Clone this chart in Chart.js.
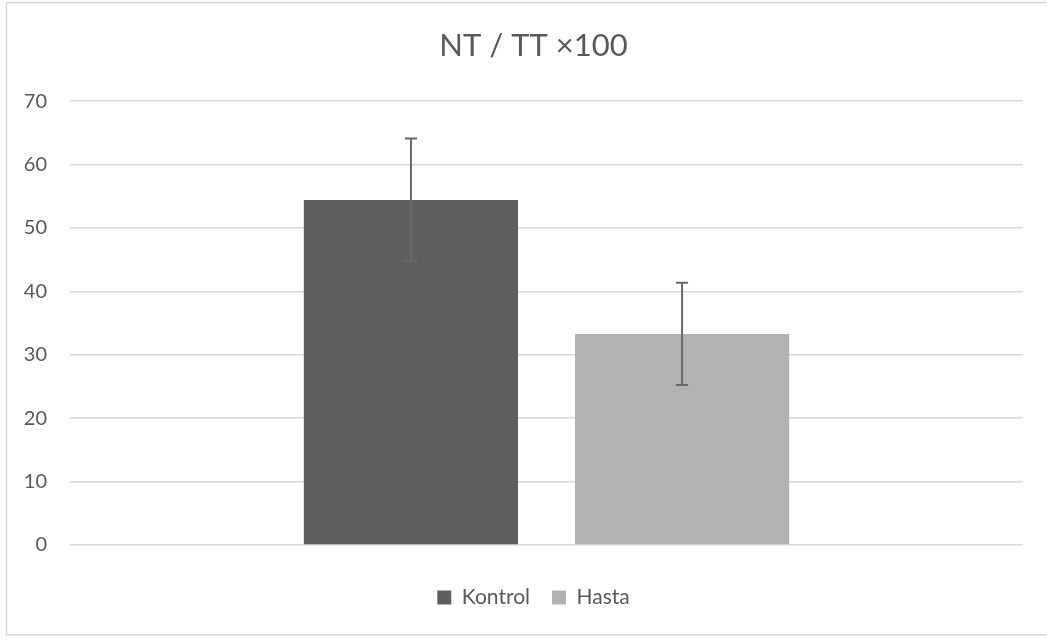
<!DOCTYPE html>
<html>
<head>
<meta charset="utf-8">
<script src="https://cdn.jsdelivr.net/npm/chart.js@4.4.1/dist/chart.umd.min.js"></script>
<style>
  html, body { margin: 0; padding: 0; background: #fff; }
  #wrap { width: 1047px; height: 640px; position: relative; }
</style>
</head>
<body>
<div id="wrap"><canvas id="chart"></canvas></div>
<script>
// Chart data
const categories = [''];
const seriesNames = ['Kontrol', 'Hasta'];
const kontrolValues = [54.4];
const hastaValues = [33.3];
const kontrolErrors = [9.7];
const hastaErrors = [8.05];
const yTicks = [0, 10, 20, 30, 40, 50, 60, 70];

const textColor = '#595959';
const fontFamily = 'Lato, "Noto Sans", sans-serif';

// error bars drawn on top of the bars
const errorBars = {
  id: 'errorBars',
  afterDatasetsDraw(chart) {
    const ctx = chart.ctx;
    const yScale = chart.scales.y;
    ctx.save();
    ctx.strokeStyle = '#686868';
    ctx.lineWidth = 2;
    chart.data.datasets.forEach((ds, i) => {
      const meta = chart.getDatasetMeta(i);
      meta.data.forEach((bar, j) => {
        const v = ds.data[j];
        const e = ds.errors[j];
        const top = yScale.getPixelForValue(v + e);
        const bottom = yScale.getPixelForValue(v - e);
        ctx.beginPath();
        ctx.moveTo(bar.x, top);
        ctx.lineTo(bar.x, bottom);
        ctx.moveTo(bar.x - 6, top);
        ctx.lineTo(bar.x + 6, top);
        ctx.moveTo(bar.x - 6, bottom);
        ctx.lineTo(bar.x + 6, bottom);
        ctx.stroke();
      });
    });
    ctx.restore();
  }
};

// light frame round the whole chart
const frame = {
  id: 'frame',
  beforeDraw(chart) {
    const ctx = chart.ctx;
    ctx.save();
    ctx.fillStyle = '#fff';
    ctx.fillRect(0, 0, chart.width, chart.height);
    ctx.strokeStyle = '#d9d9d9';
    ctx.lineWidth = 1.5;
    ctx.strokeRect(6.5, 2.5, chart.width + 10, 632.5);
    ctx.restore();
  }
};

new Chart(document.getElementById('chart'), {
  type: 'bar',
  data: {
    labels: categories,
    datasets: [
      {
        label: seriesNames[0],
        data: kontrolValues,
        errors: kontrolErrors,
        backgroundColor: '#5f5f5f'
      },
      {
        label: seriesNames[1],
        data: hastaValues,
        errors: hastaErrors,
        backgroundColor: '#b2b2b2'
      }
    ]
  },
  options: {
    responsive: true,
    maintainAspectRatio: false,
    animation: false,
    devicePixelRatio: 1,
    categoryPercentage: 0.569,
    barPercentage: 0.79,
    layout: { padding: { left: 20, right: 0, top: 12, bottom: 22 } },
    plugins: {
      title: {
        display: true,
        text: 'NT / TT ×100',
        color: textColor,
        font: { family: fontFamily, size: 31, weight: 'normal' },
        padding: { top: 15, bottom: 37 }
      },
      legend: {
        position: 'bottom',
        labels: {
          color: textColor,
          font: { family: fontFamily, size: 21 },
          boxWidth: 14,
          boxHeight: 14,
          padding: 22
        }
      },
      tooltip: { enabled: false }
    },
    scales: {
      x: {
        afterFit(scale) {
          scale.height = 20;
        },
        grid: { display: false },
        border: { display: false },
        ticks: { display: false }
      },
      y: {
        min: 0,
        max: 70,
        afterBuildTicks(scale) {
          scale.ticks = yTicks.map(v => ({ value: v }));
        },
        afterFit(scale) {
          scale.width = 50;
        },
        grid: { color: '#d9d9d9', lineWidth: 1.5, drawTicks: false },
        border: { display: false },
        ticks: {
          color: textColor,
          font: { family: fontFamily, size: 20 },
          padding: 23
        }
      },
      // empty right-hand axis, only keeps the plot off the right edge
      yRight: {
        position: 'right',
        afterFit(scale) {
          scale.width = 24;
        },
        grid: { display: false },
        border: { display: false },
        ticks: { display: false }
      }
    }
  },
  plugins: [frame, errorBars]
});
</script>
</body>
</html>
